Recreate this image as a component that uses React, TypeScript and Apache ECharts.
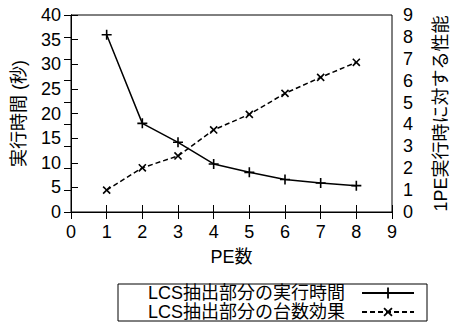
import React, { useEffect, useRef } from "react";
import * as echarts from "echarts";

// PE counts on the x axis
const peCounts = [1, 2, 3, 4, 5, 6, 7, 8];
// Execution time of the LCS extraction part (seconds)
const execTime = [36, 18, 14.15, 9.75, 8.05, 6.6, 5.9, 5.35];
// Speed-up relative to a single PE run
const speedup = [1.0, 2.02, 2.56, 3.75, 4.46, 5.42, 6.15, 6.84];

const xTicks = { min: 0, max: 9, interval: 1 };
const leftTicks = { min: 0, max: 40, interval: 5 };
const rightTicks = { min: 0, max: 9, interval: 1 };

const seriesNames = ["LCS抽出部分の実行時間", "LCS抽出部分の台数効果"];
const axisNames = { x: "PE数", left: "実行時間 (秒)", right: "1PE実行時に対する性能" };

const FONT = "'Liberation Sans', 'Noto Sans CJK JP', sans-serif";
const FS = 18;

// thin plus-shaped marker (rotated 45° gives the cross)
const PLUS = "path://M4.2,0H5.8V4.2H10V5.8H5.8V10H4.2V5.8H0V4.2H4.2Z";

export default function App() {
  const ref = useRef<HTMLDivElement>(null);

  useEffect(() => {
    if (!ref.current) return;
    const chart = echarts.init(ref.current, undefined, { renderer: "svg" });
    const text = { color: "#000", fontFamily: FONT, fontSize: FS };
    const axisLine = { show: true, lineStyle: { color: "#000", width: 1 } };
    const tick = { show: true, inside: true, length: 7, lineStyle: { color: "#000", width: 1 } };

    chart.setOption({
      animation: false,
      backgroundColor: "#fff",
      textStyle: { fontFamily: FONT },
      grid: {
        left: 71,
        top: 15,
        width: 337,
        height: 197,
        show: true,
        borderColor: "#000",
        borderWidth: 1,
        containLabel: false,
      },
      xAxis: [
        {
          type: "value",
          ...xTicks,
          position: "bottom",
          axisLine,
          axisTick: tick,
          splitLine: { show: false },
          axisLabel: { ...text, margin: 11 },
          name: axisNames.x,
          nameLocation: "middle",
          nameGap: 36,
          nameTextStyle: text,
        },
        {
          type: "value",
          ...xTicks,
          position: "top",
          axisLine,
          axisTick: tick,
          splitLine: { show: false },
          axisLabel: { show: false },
        },
      ],
      yAxis: [
        {
          type: "value",
          ...leftTicks,
          position: "left",
          axisLine,
          axisTick: tick,
          splitLine: { show: false },
          axisLabel: { ...text, margin: 10 },
          name: axisNames.left,
          nameLocation: "middle",
          nameRotate: 90,
          nameGap: 43,
          nameTextStyle: text,
        },
        {
          type: "value",
          ...rightTicks,
          position: "right",
          axisLine,
          axisTick: tick,
          splitLine: { show: false },
          axisLabel: { ...text, margin: 11 },
          name: axisNames.right,
          nameLocation: "middle",
          nameRotate: 90,
          nameGap: 40,
          nameTextStyle: text,
        },
      ],
      legend: {
        orient: "vertical",
        align: "right",
        left: 118,
        top: 284,
        padding: [0, 12, 0, 30],
        itemGap: 1,
        itemWidth: 52,
        itemHeight: 14,
        borderColor: "#000",
        borderWidth: 1,
        borderRadius: 0,
        textStyle: { ...text, lineHeight: 18, padding: [0, 12, 0, 0] },
        data: seriesNames,
      },
      series: [
        {
          name: seriesNames[0],
          type: "line",
          xAxisIndex: 0,
          yAxisIndex: 0,
          data: peCounts.map((p, i) => [p, execTime[i]]),
          symbol: PLUS,
          symbolSize: 10,
          lineStyle: { color: "#000", width: 1.5, type: "solid" },
          itemStyle: { color: "#000" },
        },
        {
          name: seriesNames[1],
          type: "line",
          xAxisIndex: 0,
          yAxisIndex: 1,
          data: peCounts.map((p, i) => [p, speedup[i]]),
          symbol: PLUS,
          symbolSize: 10,
          symbolRotate: 45,
          lineStyle: { color: "#000", width: 1.5, type: [5, 3] },
          itemStyle: { color: "#000" },
        },
      ],
    });
    return () => chart.dispose();
  }, []);

  return (
    <div
      ref={ref}
      style={{ position: "fixed", left: 0, top: 0, width: 458, height: 322, background: "#fff" }}
    />
  );
}
